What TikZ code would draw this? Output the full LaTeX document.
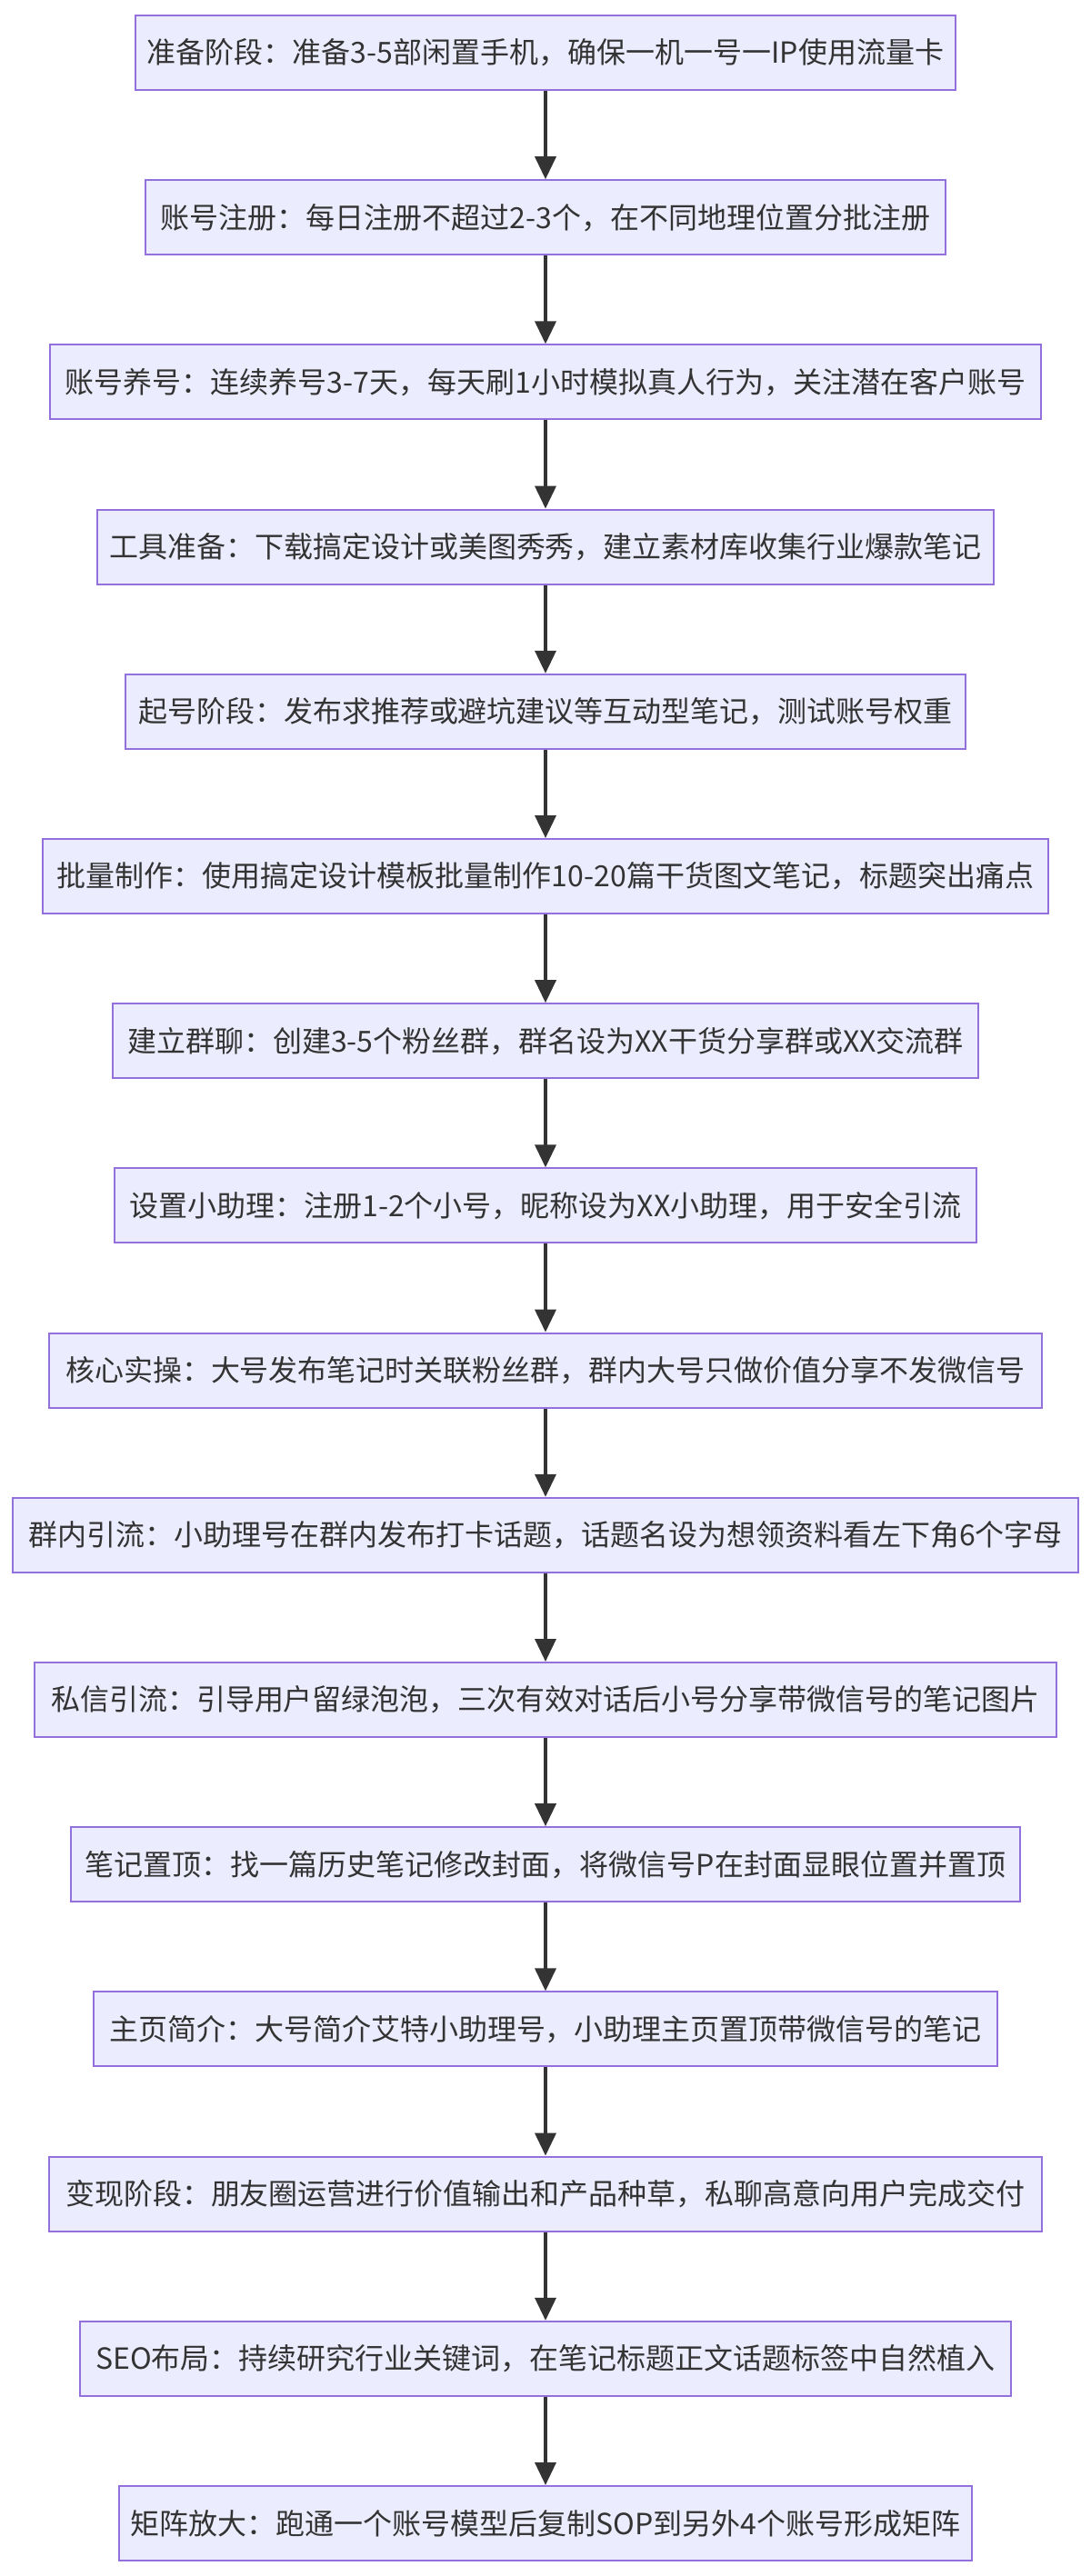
\documentclass[tikz,border=0pt]{standalone}
\usepackage{fontspec}
\setmainfont{Noto Sans CJK SC}
\usetikzlibrary{arrows.meta}
\definecolor{boxfill}{HTML}{ECECFF}
\definecolor{boxline}{HTML}{9370DB}
\definecolor{ink}{HTML}{333333}
\begin{document}
\begin{tikzpicture}[x=1pt,y=-1pt,
  stepbox/.style={draw=boxline, fill=boxfill, line width=1pt, minimum height=41pt,
    inner xsep=2pt, text=ink, font=\fontsize{16}{19}\selectfont},
  flow/.style={draw=ink, line width=1.8pt, -{Triangle[length=12.5pt,width=11.5pt]}}]
\useasboundingbox (0,0) rectangle (600,1417);
\node[stepbox, minimum width=451pt]   (n1)  at (300,29)            {准备阶段：准备3-5部闲置手机，确保一机一号一IP使用流量卡};
\node[stepbox, minimum width=440pt]   (n2)  at (300,29+90.6)       {账号注册：每日注册不超过2-3个，在不同地理位置分批注册};
\node[stepbox, minimum width=545pt]   (n3)  at (300,29+2*90.6)     {账号养号：连续养号3-7天，每天刷1小时模拟真人行为，关注潜在客户账号};
\node[stepbox, minimum width=493pt]   (n4)  at (300,29+3*90.6)     {工具准备：下载搞定设计或美图秀秀，建立素材库收集行业爆款笔记};
\node[stepbox, minimum width=462pt]   (n5)  at (300,29+4*90.6)     {起号阶段：发布求推荐或避坑建议等互动型笔记，测试账号权重};
\node[stepbox, minimum width=553pt]   (n6)  at (300,29+5*90.6)     {批量制作：使用搞定设计模板批量制作10-20篇干货图文笔记，标题突出痛点};
\node[stepbox, minimum width=476pt]   (n7)  at (300,29+6*90.6)     {建立群聊：创建3-5个粉丝群，群名设为XX干货分享群或XX交流群};
\node[stepbox, minimum width=474pt]   (n8)  at (300,29+7*90.6)     {设置小助理：注册1-2个小号，昵称设为XX小助理，用于安全引流};
\node[stepbox, minimum width=546pt]   (n9)  at (300,29+8*90.6)     {核心实操：大号发布笔记时关联粉丝群，群内大号只做价值分享不发微信号};
\node[stepbox, minimum width=586pt]   (n10) at (300,29+9*90.6)     {群内引流：小助理号在群内发布打卡话题，话题名设为想领资料看左下角6个字母};
\node[stepbox, minimum width=562pt]   (n11) at (300,29+10*90.6)    {私信引流：引导用户留绿泡泡，三次有效对话后小号分享带微信号的笔记图片};
\node[stepbox, minimum width=522pt]   (n12) at (300,29+11*90.6)    {笔记置顶：找一篇历史笔记修改封面，将微信号P在封面显眼位置并置顶};
\node[stepbox, minimum width=497pt]   (n13) at (300,29+12*90.6)    {主页简介：大号简介艾特小助理号，小助理主页置顶带微信号的笔记};
\node[stepbox, minimum width=546pt]   (n14) at (300,29+13*90.6)    {变现阶段：朋友圈运营进行价值输出和产品种草，私聊高意向用户完成交付};
\node[stepbox, minimum width=512pt]   (n15) at (300,29+14*90.6)    {SEO布局：持续研究行业关键词，在笔记标题正文话题标签中自然植入};
\node[stepbox, minimum width=469pt]   (n16) at (300,29+15*90.6)    {矩阵放大：跑通一个账号模型后复制SOP到另外4个账号形成矩阵};
\foreach \a/\b in {n1/n2,n2/n3,n3/n4,n4/n5,n5/n6,n6/n7,n7/n8,n8/n9,n9/n10,n10/n11,n11/n12,n12/n13,n13/n14,n14/n15,n15/n16}
  \draw[flow] (\a) -- (\b);
\end{tikzpicture}
\end{document}
